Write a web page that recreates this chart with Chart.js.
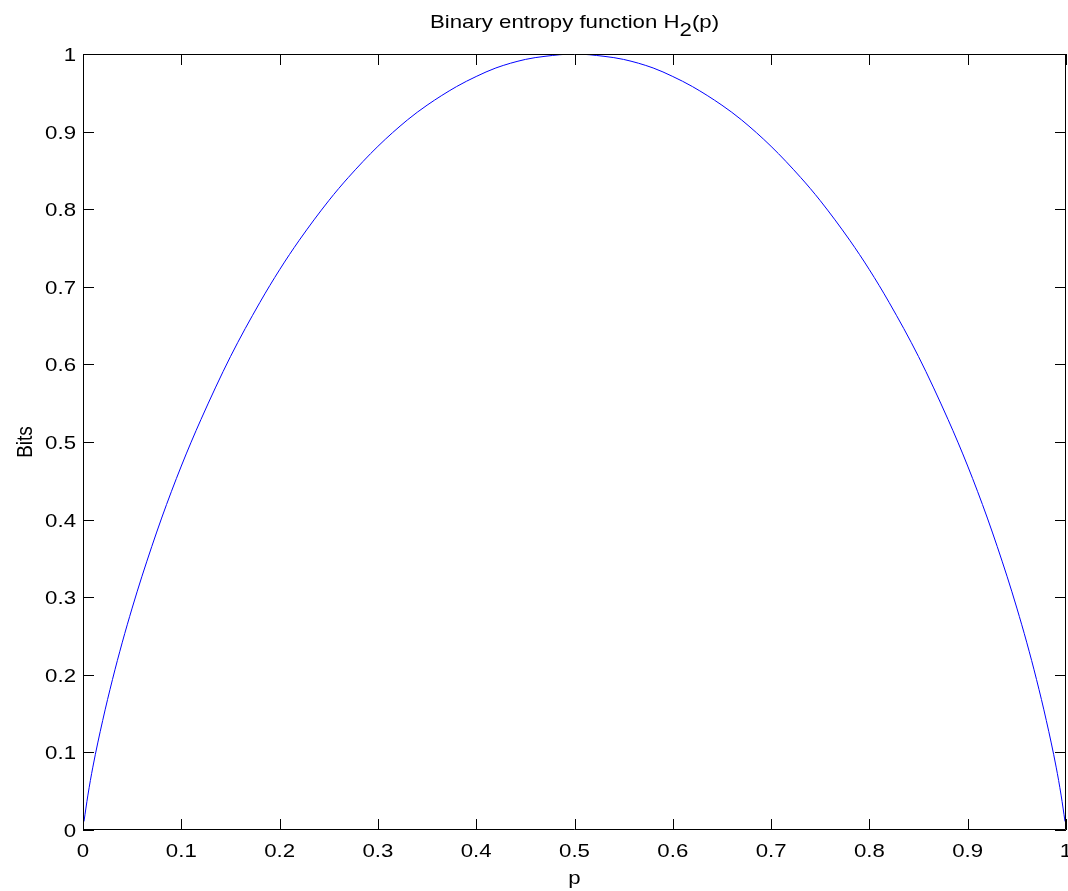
<!DOCTYPE html>
<html>
<head>
<meta charset="utf-8">
<script src="https://cdn.jsdelivr.net/npm/chart.js@4/dist/chart.umd.min.js"></script>
<style>
  html, body { margin: 0; padding: 0; background: #fff; }
  #wrap { width: 1068px; height: 891px; }
</style>
</head>
<body>
<div id="wrap"><canvas id="entropyChart" width="1068" height="891"></canvas></div>
<script>
// values
const pValues = [
  0.001, 0.005, 0.01, 0.02, 0.03, 0.04, 0.05, 0.06, 0.08, 0.1,
  0.12, 0.15, 0.18, 0.2, 0.22, 0.25, 0.27, 0.3, 0.33, 0.35,
  0.38, 0.4, 0.42, 0.45, 0.47, 0.5, 0.53, 0.55, 0.58, 0.6,
  0.62, 0.65, 0.67, 0.7, 0.73, 0.75, 0.78, 0.8, 0.82, 0.85,
  0.88, 0.9, 0.92, 0.94, 0.95, 0.96, 0.97, 0.98, 0.99, 0.995, 0.999
];
const bits = [
  0.011, 0.045, 0.081, 0.141, 0.194, 0.242, 0.286, 0.327, 0.402, 0.469,
  0.529, 0.610, 0.680, 0.722, 0.760, 0.811, 0.841, 0.881, 0.915, 0.934,
  0.958, 0.971, 0.982, 0.993, 0.997, 1.000, 0.997, 0.993, 0.982, 0.971,
  0.958, 0.934, 0.915, 0.881, 0.841, 0.811, 0.760, 0.722, 0.680, 0.610,
  0.529, 0.469, 0.402, 0.327, 0.286, 0.242, 0.194, 0.141, 0.081, 0.045, 0.011
];
const xTicks = [0, 0.1, 0.2, 0.3, 0.4, 0.5, 0.6, 0.7, 0.8, 0.9, 1];
const yTicks = [0, 0.1, 0.2, 0.3, 0.4, 0.5, 0.6, 0.7, 0.8, 0.9, 1];
const xLabels = ["0", "0.1", "0.2", "0.3", "0.4", "0.5", "0.6", "0.7", "0.8", "0.9", "1"];
const yLabels = ["0", "0.1", "0.2", "0.3", "0.4", "0.5", "0.6", "0.7", "0.8", "0.9", "1"];

const FONT = "19px 'Liberation Sans', Arial, sans-serif";
const SX = 1.17; // the matlab export is a bit wider than tall

function wideText(ctx, text, x, y, align) {
  ctx.save();
  ctx.translate(x, y);
  ctx.scale(SX, 1);
  ctx.textAlign = align;
  ctx.fillText(text, 0, 0);
  ctx.restore();
}

// matlab style box with inward ticks on all four sides, labels and title
const boxPlugin = {
  id: "boxPlugin",
  afterDraw(chart) {
    const { ctx, chartArea: a, scales } = chart;
    const len = 11;
    ctx.save();
    ctx.strokeStyle = "#000";
    ctx.lineWidth = 1;
    ctx.beginPath();
    ctx.rect(Math.round(a.left) + 0.5, Math.round(a.top) + 0.5,
      Math.round(a.right - a.left) - 1, Math.round(a.bottom - a.top) - 1);
    xTicks.forEach((v) => {
      const x = Math.round(scales.x.getPixelForValue(v)) + 0.5;
      ctx.moveTo(x, a.bottom);
      ctx.lineTo(x, a.bottom - len);
      ctx.moveTo(x, a.top);
      ctx.lineTo(x, a.top + len);
    });
    yTicks.forEach((v) => {
      const y = Math.round(scales.y.getPixelForValue(v)) + 0.5;
      ctx.moveTo(a.left, y);
      ctx.lineTo(a.left + len, y);
      ctx.moveTo(a.right, y);
      ctx.lineTo(a.right - len, y);
    });
    ctx.stroke();

    ctx.fillStyle = "#000";
    ctx.font = FONT;
    ctx.textBaseline = "alphabetic";

    xTicks.forEach((v, i) => {
      wideText(ctx, xLabels[i], scales.x.getPixelForValue(v), a.bottom + 27, "center");
    });
    yTicks.forEach((v, i) => {
      wideText(ctx, yLabels[i], a.left - 7, scales.y.getPixelForValue(v) + 7, "right");
    });

    const cx = (a.left + a.right) / 2;
    // x axis label
    wideText(ctx, "p", cx, 884, "center");

    // y axis label, rotated
    ctx.save();
    ctx.translate(32, (a.top + a.bottom) / 2);
    ctx.rotate(-Math.PI / 2);
    ctx.scale(1, SX);
    ctx.textAlign = "center";
    ctx.fillText("Bits", 0, 0);
    ctx.restore();

    // title: Binary entropy function H_2(p)
    const p1 = "Binary entropy function H";
    const p2 = "2";
    const p3 = "(p)";
    const w1 = ctx.measureText(p1).width * SX;
    const w2 = ctx.measureText(p2).width * SX;
    const w3 = ctx.measureText(p3).width * SX;
    let x = cx - (w1 + w2 + w3) / 2;
    const base = 28;
    wideText(ctx, p1, x, base, "left");
    x += w1;
    wideText(ctx, p2, x, base + 8, "left");
    x += w2;
    wideText(ctx, p3, x, base, "left");
    ctx.restore();
  },
};

new Chart(document.getElementById("entropyChart").getContext("2d"), {
  type: "line",
  data: {
    datasets: [
      {
        data: pValues.map((p, i) => ({ x: p, y: bits[i] })),
        borderColor: "#0000ff",
        borderWidth: 1,
        pointRadius: 0,
        cubicInterpolationMode: "monotone",
        fill: false,
      },
    ],
  },
  options: {
    responsive: false,
    animation: false,
    layout: { padding: { top: 54, right: 2, left: 0, bottom: 0 } },
    plugins: {
      legend: { display: false },
      tooltip: { enabled: false },
      title: { display: false },
    },
    scales: {
      x: {
        type: "linear",
        min: 0,
        max: 1,
        afterBuildTicks: (s) => { s.ticks = xTicks.map((v) => ({ value: v })); },
        afterFit: (s) => { s.height = 61; s.paddingLeft = 0; s.paddingRight = 0; },
        grid: { display: false, drawTicks: false },
        border: { display: false },
        ticks: { display: false },
      },
      y: {
        type: "linear",
        min: 0,
        max: 1,
        afterBuildTicks: (s) => { s.ticks = yTicks.map((v) => ({ value: v })); },
        afterFit: (s) => { s.width = 83; s.paddingTop = 0; s.paddingBottom = 0; },
        grid: { display: false, drawTicks: false },
        border: { display: false },
        ticks: { display: false },
      },
    },
  },
  plugins: [boxPlugin],
});
</script>
</body>
</html>
